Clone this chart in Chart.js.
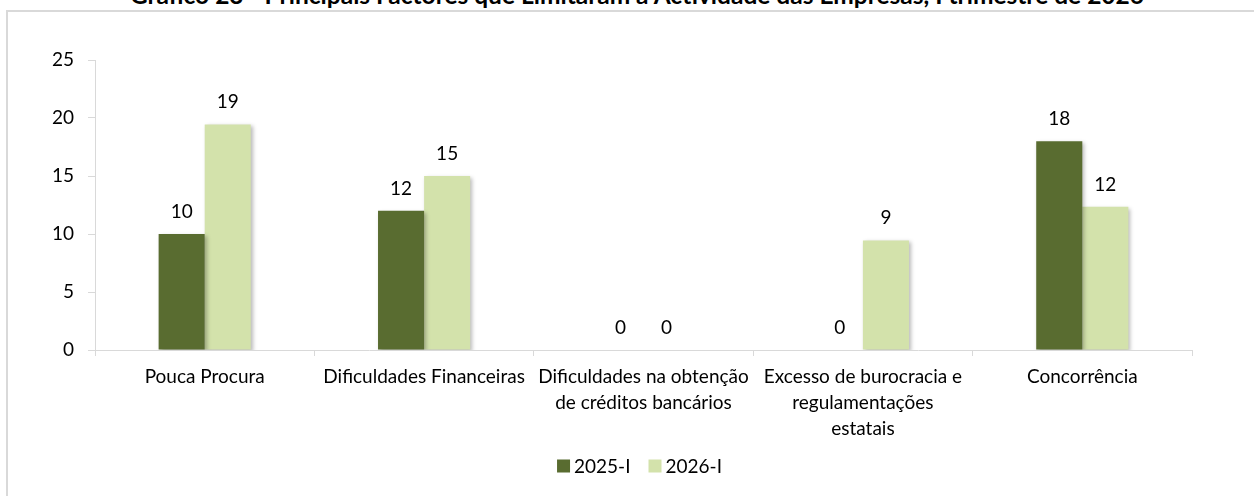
<!DOCTYPE html>
<html>
<head>
<meta charset="utf-8">
<script src="https://cdn.jsdelivr.net/npm/chart.js@4"></script>
<style>
  html, body { margin: 0; padding: 0; background: #fff; width: 1254px; height: 496px; overflow: hidden; }
  #frame { position: absolute; left: 6px; top: 10px; width: 1300px; height: 600px;
           border-left: 2px solid #d9d9d9; border-top: 2px solid #d9d9d9; box-sizing: border-box; }
  #title { position: absolute; left: 0; top: -17px; width: 1254px; padding-left: 20px; box-sizing: border-box;
           text-align: center; font: bold 24.5px Lato, "Liberation Sans", sans-serif; line-height: 24px; color: #000; white-space: nowrap; }
  #wrap { position: absolute; left: 0; top: 0; width: 1254px; height: 496px; }
</style>
</head>
<body>
<div id="frame"></div>
<div id="title">Gráfico 23 - Principais Factores que Limitaram a Actividade das Empresas, I trimestre de 2026</div>
<div id="wrap"><canvas id="c" width="1254" height="496"></canvas></div>
<script>
const categories = [
  ['Pouca Procura'],
  ['Dificuldades Financeiras'],
  ['Dificuldades na obtenção', 'de créditos bancários'],
  ['Excesso de burocracia e', 'regulamentações', 'estatais'],
  ['Concorrência']
];
const seriesNames = ['2025-I', '2026-I'];
const values2025 = [10, 12, 0, 0, 18];
const values2026 = [19.45, 15, 0, 9.45, 12.35];
const yTicks = [0, 5, 10, 15, 20, 25];

const FONT = 'Lato, "Liberation Sans", sans-serif';
const FS = 19;
const DARK = '#596C30';
const LIGHT = '#D3E2AB';

const shadowPlugin = {
  id: 'barShadow',
  beforeDatasetsDraw(chart) {
    const ctx = chart.ctx;
    ctx.save();
    ctx.shadowColor = 'rgba(0,0,0,0.28)';
    ctx.shadowBlur = 4;
    ctx.shadowOffsetX = 2;
    ctx.shadowOffsetY = 2;
  },
  afterDatasetsDraw(chart) {
    chart.ctx.restore();
  }
};

const labelPlugin = {
  id: 'valueLabels',
  afterDatasetsDraw(chart) {
    const ctx = chart.ctx;
    ctx.save();
    ctx.font = FS + 'px ' + FONT;
    ctx.fillStyle = '#000';
    ctx.textAlign = 'center';
    ctx.textBaseline = 'alphabetic';
    chart.data.datasets.forEach((ds, i) => {
      const meta = chart.getDatasetMeta(i);
      meta.data.forEach((bar, j) => {
        ctx.fillText(String(Math.round(ds.data[j])), bar.x, bar.y - 16);
      });
    });
    ctx.restore();
  }
};

const legendPlugin = {
  id: 'customLegend',
  afterDraw(chart) {
    const ctx = chart.ctx;
    const ca = chart.chartArea;
    ctx.save();
    ctx.font = FS + 'px ' + FONT;
    const box = 13, gapText = 4, gapItem = 18;
    const items = chart.data.datasets.map(d => ({ text: d.label, color: d.backgroundColor, w: ctx.measureText(d.label).width }));
    let total = 0;
    items.forEach((it, k) => { total += box + gapText + it.w + (k < items.length - 1 ? gapItem : 0); });
    let x = (ca.left + ca.right) / 2 - 4 - total / 2;
    const cy = 466;
    ctx.textBaseline = 'middle';
    ctx.textAlign = 'left';
    items.forEach(it => {
      ctx.fillStyle = it.color;
      ctx.fillRect(x, cy - box / 2, box, box);
      x += box + gapText;
      ctx.fillStyle = '#000';
      ctx.fillText(it.text, x, cy + 1);
      x += it.w + gapItem;
    });
    ctx.restore();
  }
};

new Chart(document.getElementById('c'), {
  type: 'bar',
  data: {
    labels: categories,
    datasets: [
      { label: seriesNames[0], data: values2025, backgroundColor: DARK, borderWidth: 0 },
      { label: seriesNames[1], data: values2026, backgroundColor: LIGHT, borderWidth: 0 }
    ]
  },
  options: {
    responsive: false,
    animation: false,
    devicePixelRatio: 1,
    layout: { padding: { left: 0, right: 62, top: 60, bottom: 0 } },
    plugins: { legend: { display: false }, tooltip: { enabled: false }, title: { display: false } },
    datasets: { bar: { barPercentage: 1.0, categoryPercentage: 0.42 } },
    scales: {
      x: {
        grid: { offset: true, drawOnChartArea: false, drawTicks: true, tickLength: 6, color: '#d9d9d9', lineWidth: 1 },
        border: { display: true, color: '#d9d9d9', width: 1 },
        ticks: { autoSkip: false, maxRotation: 0, minRotation: 0, padding: 8, color: '#000',
                 font: { family: FONT, size: FS, lineHeight: 1.37 } },
        afterFit(scale) { scale.height = 146; }
      },
      y: {
        min: 0, max: 25,
        afterBuildTicks(scale) { scale.ticks = yTicks.map(v => ({ value: v })); },
        grid: { drawOnChartArea: false, drawTicks: true, tickLength: 7, color: '#d9d9d9', lineWidth: 1 },
        border: { display: true, color: '#d9d9d9', width: 1 },
        ticks: { padding: 14, color: '#000', font: { family: FONT, size: FS } },
        afterFit(scale) { scale.width = 95; }
      }
    }
  },
  plugins: [shadowPlugin, labelPlugin, legendPlugin]
});
</script>
</body>
</html>
